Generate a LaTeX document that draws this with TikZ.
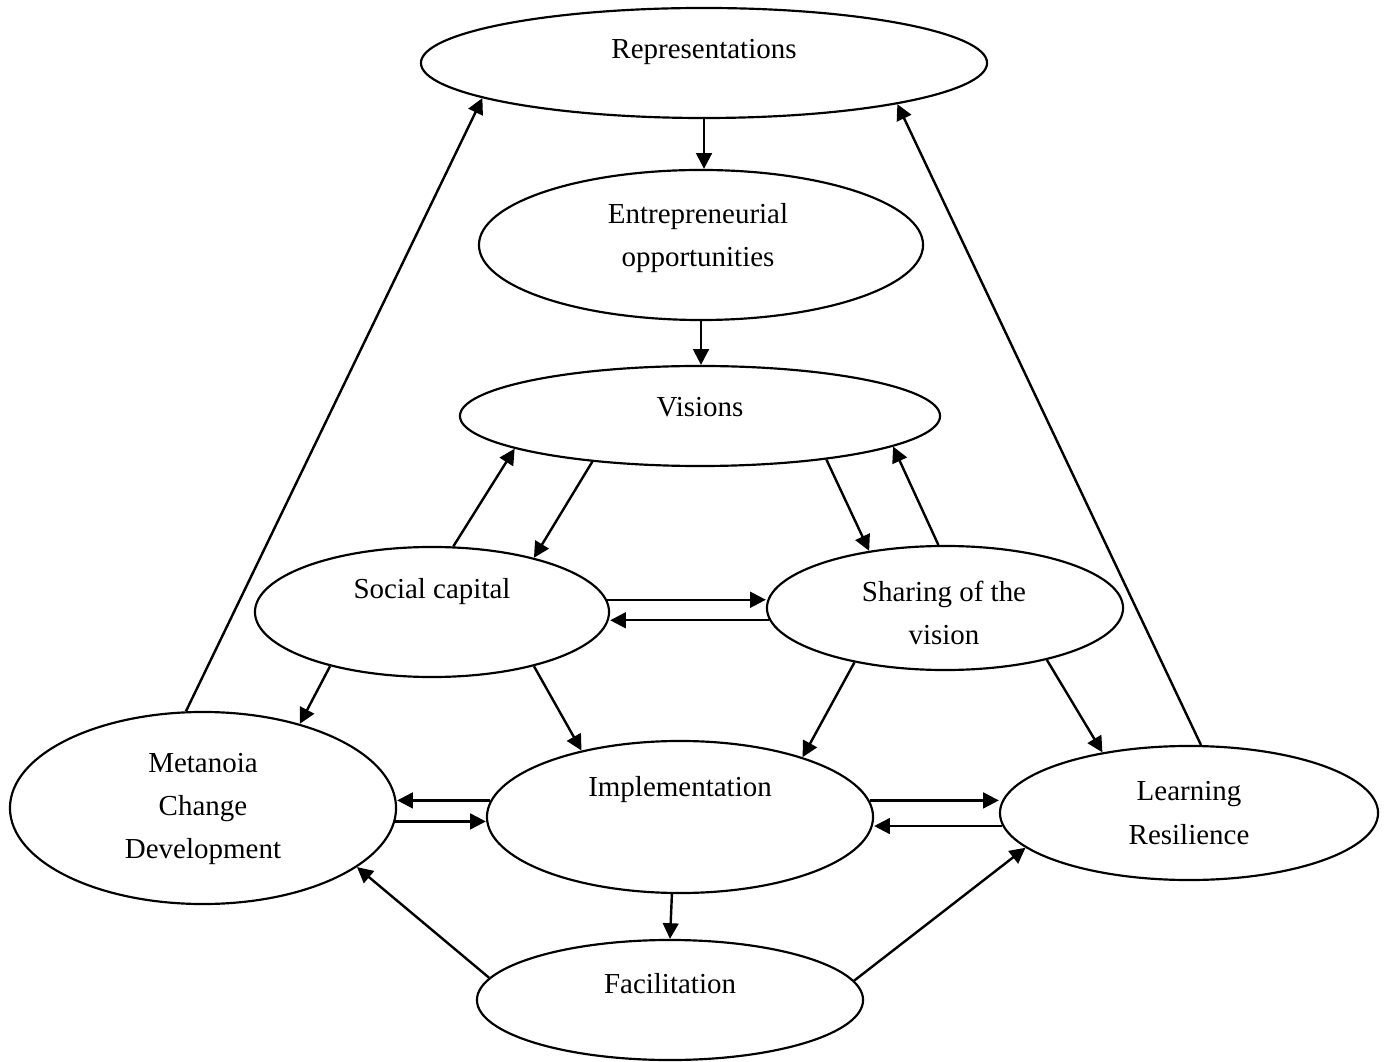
\documentclass[tikz,border=0pt]{standalone}
\usepackage{fontspec}
\setmainfont{Liberation Serif}
\usetikzlibrary{shapes.geometric,arrows.meta}
\begin{document}
\begin{tikzpicture}[x=0.01456cm,y=-0.01456cm]
\tikzset{
    etiqueta/.style={text centered, align=center, font=\fontsize{12}{18}\selectfont},
    ovalo/.style 2 args={ellipse, draw, line width=0.9pt, inner sep=0pt, minimum width=#1*0.2912mm, minimum height=#2*0.2912mm},
    flecha/.style={-{Triangle[length=6.5pt,width=6.5pt]}, line width=1pt}
}
\useasboundingbox (0,0) rectangle (1386,1062);
% ovalos
\node[ovalo={283}{55}] (repr) at (704,63) {};
\node[ovalo={222}{75}] (entre) at (701,245) {};
\node[ovalo={240}{50}] (vis) at (700,416) {};
\node[ovalo={177}{65}] (soc) at (432,612) {};
\node[ovalo={178}{62}] (shar) at (945,608) {};
\node[ovalo={193}{96}] (meta) at (203,808) {};
\node[ovalo={193}{76}] (impl) at (680,817) {};
\node[ovalo={189}{67}] (learn) at (1189,813) {};
\node[ovalo={193}{60}] (facil) at (670,1000) {};
% textos
\node[etiqueta] (repr-t) at (704,52) {Representations};
\node[etiqueta] (entre-t) at (698,238) {Entrepreneurial\\opportunities};
\node[etiqueta] (vis-t) at (700,407) {Visions};
\node[etiqueta] (soc-t) at (432,592) {Social capital};
\node[etiqueta] (shar-t) at (944,613) {Sharing of the\\vision};
\node[etiqueta] (meta-t) at (203,809) {Metanoia\\Change\\Development};
\node[etiqueta] (impl-t) at (680,790) {Implementation};
\node[etiqueta] (learn-t) at (1189,813) {Learning\\Resilience};
\node[etiqueta] (facil-t) at (670,984) {Facilitation};
% flechas
\draw[flecha] (repr.south) -- (repr.south |- entre.north);
\draw[flecha] (entre.south) -- (entre.south |- vis.north);
\draw[flecha] (meta.100.7) -- (repr.-171.1);
\draw[flecha] (learn.80.3) -- (repr.-12.3);
\draw[flecha] (soc.72.1) -- (vis.-170.2);
\draw[flecha] (vis.-157.8) -- (soc.28.1);
\draw[flecha] (vis.-19.6) -- (shar.143.4);
\draw[flecha] (shar.96.5) -- (vis.-9.3);
\draw[flecha] (soc.4.6) -- (soc.4.6 -| shar.west);
\draw[flecha] (shar.-176.1) -- (shar.-176.1 -| soc.east);
\draw[flecha] (soc.-152.2) -- (meta.41.6);
\draw[flecha] (soc.-28.9) -- (impl.146.8);
\draw[flecha] (shar.-149.6) -- (impl.26);
\draw[flecha] (shar.-27) -- (learn.145);
\draw[flecha] (impl.175.5) -- (impl.175.5 -| meta.east);
\draw[flecha] (meta.-4.8) -- (meta.-4.8 -| impl.west);
\draw[flecha] (impl.5.2) -- (impl.5.2 -| learn.west);
\draw[flecha] (learn.-176.9) -- (learn.-176.9 -| impl.east);
\draw[flecha] (impl.-96.8) -- (facil.90);
\draw[flecha] (facil.173.1) -- (meta.-21.6);
\draw[flecha] (facil.6.2) -- (learn.-168.7);
\end{tikzpicture}
\end{document}
